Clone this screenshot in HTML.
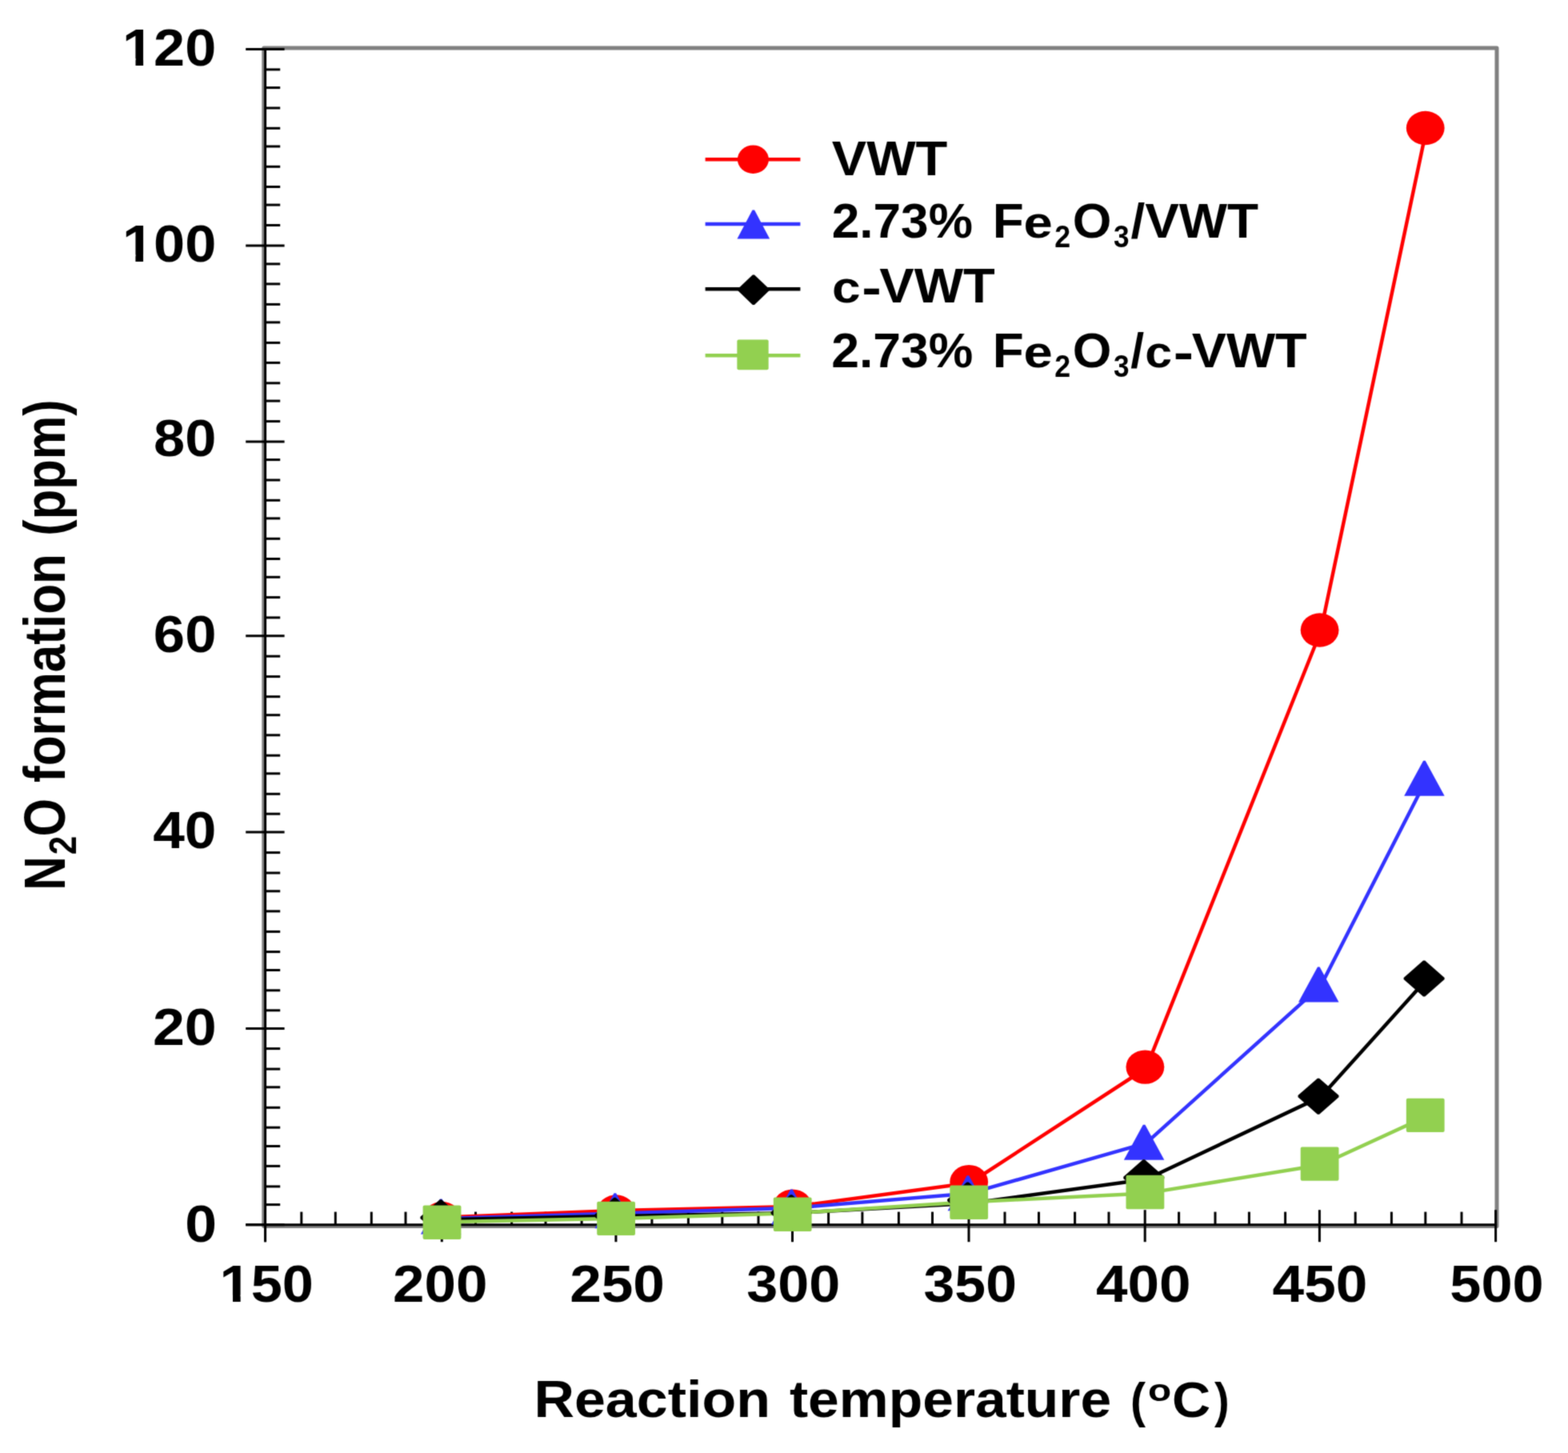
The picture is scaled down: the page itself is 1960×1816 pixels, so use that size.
<!DOCTYPE html>
<html><head><meta charset="utf-8"><title>N2O formation vs reaction temperature</title>
<style>html,body{margin:0;padding:0;background:#fff;width:1960px;height:1816px;overflow:hidden}svg{display:block}text{font-family:"Liberation Sans",Arial,sans-serif;font-weight:bold;fill:#000}</style>
</head><body>
<svg xmlns="http://www.w3.org/2000/svg" width="1960" height="1816" viewBox="0 0 1960 1816">
<defs><filter id="soft" x="0" y="0" width="1960" height="1816" filterUnits="userSpaceOnUse" color-interpolation-filters="sRGB"><feConvolveMatrix order="3" kernelMatrix="0.02768 0.11101 0.02768 0.11101 0.44521 0.11101 0.02768 0.11101 0.02768" divisor="1" edgeMode="duplicate"/></filter></defs>
<g filter="url(#soft)">
<rect x="0" y="0" width="1960" height="1816" fill="#fff"/>
<rect x="329.8" y="60.1" width="1541.2" height="1472.4" fill="none" stroke="#808080" stroke-width="5" stroke-linejoin="round"/>
<g stroke="#000" stroke-width="3" fill="none">
<line x1="331.6" y1="59.9" x2="331.6" y2="1552.2"/>
<line x1="307.2" y1="1530.7" x2="1871.1" y2="1530.7"/>
<line x1="331.6" y1="86.9" x2="350.2" y2="86.9"/>
<line x1="331.6" y1="109.6" x2="350.2" y2="109.6"/>
<line x1="331.6" y1="135" x2="350.2" y2="135"/>
<line x1="331.6" y1="160.3" x2="350.2" y2="160.3"/>
<line x1="331.6" y1="183" x2="350.2" y2="183"/>
<line x1="331.6" y1="208.3" x2="350.2" y2="208.3"/>
<line x1="331.6" y1="233.5" x2="350.2" y2="233.5"/>
<line x1="331.6" y1="256.1" x2="350.2" y2="256.1"/>
<line x1="331.6" y1="281.5" x2="350.2" y2="281.5"/>
<line x1="331.6" y1="329.9" x2="350.2" y2="329.9"/>
<line x1="331.6" y1="354.9" x2="350.2" y2="354.9"/>
<line x1="331.6" y1="380.4" x2="350.2" y2="380.4"/>
<line x1="331.6" y1="402.9" x2="350.2" y2="402.9"/>
<line x1="331.6" y1="428.4" x2="350.2" y2="428.4"/>
<line x1="331.6" y1="453.4" x2="350.2" y2="453.4"/>
<line x1="331.6" y1="478.8" x2="350.2" y2="478.8"/>
<line x1="331.6" y1="501.1" x2="350.2" y2="501.1"/>
<line x1="331.6" y1="526.6" x2="350.2" y2="526.6"/>
<line x1="331.6" y1="574.6" x2="350.2" y2="574.6"/>
<line x1="331.6" y1="600" x2="350.2" y2="600"/>
<line x1="331.6" y1="625.3" x2="350.2" y2="625.3"/>
<line x1="331.6" y1="647.9" x2="350.2" y2="647.9"/>
<line x1="331.6" y1="673.3" x2="350.2" y2="673.3"/>
<line x1="331.6" y1="698.5" x2="350.2" y2="698.5"/>
<line x1="331.6" y1="721.3" x2="350.2" y2="721.3"/>
<line x1="331.6" y1="746.6" x2="350.2" y2="746.6"/>
<line x1="331.6" y1="771.9" x2="350.2" y2="771.9"/>
<line x1="331.6" y1="820.2" x2="350.2" y2="820.2"/>
<line x1="331.6" y1="845.6" x2="350.2" y2="845.6"/>
<line x1="331.6" y1="870.7" x2="350.2" y2="870.7"/>
<line x1="331.6" y1="893.7" x2="350.2" y2="893.7"/>
<line x1="331.6" y1="918.8" x2="350.2" y2="918.8"/>
<line x1="331.6" y1="944.2" x2="350.2" y2="944.2"/>
<line x1="331.6" y1="966.8" x2="350.2" y2="966.8"/>
<line x1="331.6" y1="992.3" x2="350.2" y2="992.3"/>
<line x1="331.6" y1="1017.2" x2="350.2" y2="1017.2"/>
<line x1="331.6" y1="1065.6" x2="350.2" y2="1065.6"/>
<line x1="331.6" y1="1091" x2="350.2" y2="1091"/>
<line x1="331.6" y1="1113.8" x2="350.2" y2="1113.8"/>
<line x1="331.6" y1="1138.9" x2="350.2" y2="1138.9"/>
<line x1="331.6" y1="1164.4" x2="350.2" y2="1164.4"/>
<line x1="331.6" y1="1189.6" x2="350.2" y2="1189.6"/>
<line x1="331.6" y1="1212.5" x2="350.2" y2="1212.5"/>
<line x1="331.6" y1="1237.8" x2="350.2" y2="1237.8"/>
<line x1="331.6" y1="1262.8" x2="350.2" y2="1262.8"/>
<line x1="331.6" y1="1310.6" x2="350.2" y2="1310.6"/>
<line x1="331.6" y1="1336.1" x2="350.2" y2="1336.1"/>
<line x1="331.6" y1="1358.8" x2="350.2" y2="1358.8"/>
<line x1="331.6" y1="1384.3" x2="350.2" y2="1384.3"/>
<line x1="331.6" y1="1409.2" x2="350.2" y2="1409.2"/>
<line x1="331.6" y1="1432.5" x2="350.2" y2="1432.5"/>
<line x1="331.6" y1="1457.4" x2="350.2" y2="1457.4"/>
<line x1="331.6" y1="1482.9" x2="350.2" y2="1482.9"/>
<line x1="331.6" y1="1505.6" x2="350.2" y2="1505.6"/>
<line x1="307.2" y1="1530.7" x2="355.6" y2="1530.7"/>
<line x1="307.2" y1="1285.5" x2="355.6" y2="1285.5"/>
<line x1="307.2" y1="1040.1" x2="355.6" y2="1040.1"/>
<line x1="307.2" y1="794.75" x2="355.6" y2="794.75"/>
<line x1="307.2" y1="552" x2="355.6" y2="552"/>
<line x1="307.2" y1="306.9" x2="355.6" y2="306.9"/>
<line x1="307.2" y1="61.45" x2="355.6" y2="61.45"/>
<line x1="376.8" y1="1530.7" x2="376.8" y2="1514.6"/>
<line x1="419.3" y1="1530.7" x2="419.3" y2="1514.6"/>
<line x1="464.3" y1="1530.7" x2="464.3" y2="1514.6"/>
<line x1="507" y1="1530.7" x2="507" y2="1514.6"/>
<line x1="594.5" y1="1530.7" x2="594.5" y2="1514.6"/>
<line x1="639.6" y1="1530.7" x2="639.6" y2="1514.6"/>
<line x1="682" y1="1530.7" x2="682" y2="1514.6"/>
<line x1="727.1" y1="1530.7" x2="727.1" y2="1514.6"/>
<line x1="814.9" y1="1530.7" x2="814.9" y2="1514.6"/>
<line x1="860.4" y1="1530.7" x2="860.4" y2="1514.6"/>
<line x1="902.8" y1="1530.7" x2="902.8" y2="1514.6"/>
<line x1="948" y1="1530.7" x2="948" y2="1514.6"/>
<line x1="1035.6" y1="1530.7" x2="1035.6" y2="1514.6"/>
<line x1="1077.9" y1="1530.7" x2="1077.9" y2="1514.6"/>
<line x1="1123.4" y1="1530.7" x2="1123.4" y2="1514.6"/>
<line x1="1165.5" y1="1530.7" x2="1165.5" y2="1514.6"/>
<line x1="1256" y1="1530.7" x2="1256" y2="1514.6"/>
<line x1="1298.5" y1="1530.7" x2="1298.5" y2="1514.6"/>
<line x1="1343.6" y1="1530.7" x2="1343.6" y2="1514.6"/>
<line x1="1386" y1="1530.7" x2="1386" y2="1514.6"/>
<line x1="1473.6" y1="1530.7" x2="1473.6" y2="1514.6"/>
<line x1="1519" y1="1530.7" x2="1519" y2="1514.6"/>
<line x1="1561.4" y1="1530.7" x2="1561.4" y2="1514.6"/>
<line x1="1606.6" y1="1530.7" x2="1606.6" y2="1514.6"/>
<line x1="1694.2" y1="1530.7" x2="1694.2" y2="1514.6"/>
<line x1="1739.4" y1="1530.7" x2="1739.4" y2="1514.6"/>
<line x1="1781.8" y1="1530.7" x2="1781.8" y2="1514.6"/>
<line x1="1827" y1="1530.7" x2="1827" y2="1514.6"/>
<line x1="331.5" y1="1512.2" x2="331.5" y2="1552.2"/>
<line x1="552.3" y1="1512.2" x2="552.3" y2="1552.2"/>
<line x1="769.9" y1="1512.2" x2="769.9" y2="1552.2"/>
<line x1="990.5" y1="1512.2" x2="990.5" y2="1552.2"/>
<line x1="1211" y1="1512.2" x2="1211" y2="1552.2"/>
<line x1="1431.2" y1="1512.2" x2="1431.2" y2="1552.2"/>
<line x1="1649.4" y1="1512.2" x2="1649.4" y2="1552.2"/>
<line x1="1869.6" y1="1512.2" x2="1869.6" y2="1552.2"/>
</g>
<polyline points="553.8,1521.6 771.4,1513.1 992,1508 1212.5,1478.5 1432.7,1335 1650.9,789 1783.02,161.4" fill="none" stroke="#FF0000" stroke-width="4.5" stroke-linejoin="round"/>
<polyline points="553.8,1523 771.4,1516.5 992,1509.7 1212.5,1491.4 1432.7,1428.6 1650.9,1232.2 1783.02,974.2" fill="none" stroke="#3333FF" stroke-width="4.5" stroke-linejoin="round"/>
<polyline points="553.8,1524.2 771.4,1520 992,1516 1212.5,1504 1432.7,1474 1650.9,1370.9 1783.02,1224.4" fill="none" stroke="#000000" stroke-width="4.5" stroke-linejoin="round"/>
<polyline points="553.8,1527.2 771.4,1523 992,1516.3 1212.5,1502.3 1432.7,1491.4 1650.9,1456 1783.02,1395.3" fill="none" stroke="#92D050" stroke-width="4.5" stroke-linejoin="round"/>
<ellipse cx="552.5" cy="1523" rx="23.9" ry="21.2" fill="#FF0000"/>
<ellipse cx="770.1" cy="1514.5" rx="23.9" ry="21.2" fill="#FF0000"/>
<ellipse cx="990.7" cy="1507.6" rx="23.9" ry="21.2" fill="#FF0000"/>
<ellipse cx="1211.2" cy="1477.2" rx="23.9" ry="21.2" fill="#FF0000"/>
<ellipse cx="1431.4" cy="1333.6" rx="23.9" ry="21.2" fill="#FF0000"/>
<ellipse cx="1649.6" cy="787.5" rx="23.9" ry="21.2" fill="#FF0000"/>
<ellipse cx="1781.72" cy="160" rx="23.9" ry="21.2" fill="#FF0000"/>
<polygon points="549.9,1498.4 552.5,1498.4 576.45,1542.4 525.95,1542.4" fill="#3333FF"/>
<polygon points="767.5,1491.3 770.1,1491.3 794.05,1535.3 743.55,1535.3" fill="#3333FF"/>
<polygon points="988.1,1486.5 990.7,1486.5 1014.65,1530.5 964.15,1530.5" fill="#3333FF"/>
<polygon points="1208.6,1469.2 1211.2,1469.2 1235.15,1513.2 1184.65,1513.2" fill="#3333FF"/>
<polygon points="1428.8,1405.8 1431.4,1405.8 1455.35,1449.8 1404.85,1449.8" fill="#3333FF"/>
<polygon points="1647,1208.45 1649.6,1208.45 1673.55,1252.45 1623.05,1252.45" fill="#3333FF"/>
<polygon points="1779.12,950.8 1781.72,950.8 1805.67,994.8 1755.17,994.8" fill="#3333FF"/>
<polygon points="549.8,1499.3 552,1499.3 576.4,1520.7 576.4,1522.9 552,1544.3 549.8,1544.3 525.4,1522.9 525.4,1520.7" fill="#000000"/>
<polygon points="767.4,1496.8 769.6,1496.8 794,1518.2 794,1520.4 769.6,1541.8 767.4,1541.8 743,1520.4 743,1518.2" fill="#000000"/>
<polygon points="988,1493.3 990.2,1493.3 1014.6,1514.7 1014.6,1516.9 990.2,1538.3 988,1538.3 963.6,1516.9 963.6,1514.7" fill="#000000"/>
<polygon points="1208.5,1477.5 1210.7,1477.5 1235.1,1498.9 1235.1,1501.1 1210.7,1522.5 1208.5,1522.5 1184.1,1501.1 1184.1,1498.9" fill="#000000"/>
<polygon points="1428.7,1449.3 1430.9,1449.3 1455.3,1470.7 1455.3,1472.9 1430.9,1494.3 1428.7,1494.3 1404.3,1472.9 1404.3,1470.7" fill="#000000"/>
<polygon points="1646.9,1347.7 1649.1,1347.7 1673.5,1369.1 1673.5,1371.3 1649.1,1392.7 1646.9,1392.7 1622.5,1371.3 1622.5,1369.1" fill="#000000"/>
<polygon points="1779.02,1200.5 1781.22,1200.5 1805.62,1221.9 1805.62,1224.1 1781.22,1245.5 1779.02,1245.5 1754.62,1224.1 1754.62,1221.9" fill="#000000"/>
<rect x="528.6" y="1506.6" width="47.8" height="42.4" rx="2" fill="#92D050"/>
<rect x="746.2" y="1501.7" width="47.8" height="42.4" rx="2" fill="#92D050"/>
<rect x="966.8" y="1496.6" width="47.8" height="42.4" rx="2" fill="#92D050"/>
<rect x="1187.3" y="1481.6" width="47.8" height="42.4" rx="2" fill="#92D050"/>
<rect x="1407.5" y="1468.8" width="47.8" height="42.4" rx="2" fill="#92D050"/>
<rect x="1625.7" y="1433.4" width="47.8" height="42.4" rx="2" fill="#92D050"/>
<rect x="1757.82" y="1372.7" width="47.8" height="42.4" rx="2" fill="#92D050"/>
<defs><clipPath id="nofoot"><path clip-rule="evenodd" d="M0 0H1960V1816H0ZM155.14 72.92h14.33v11.06h-14.33ZM179.1 72.92h13.4v11.06h-13.4ZM155.04 318.22h14.35v11.06h-14.35ZM179.04 318.22h13.43v11.06h-13.43ZM276.64 1618.42h14.35v11.06h-14.35ZM300.64 1618.42h13.43v11.06h-13.43Z"/></clipPath></defs>
<text clip-path="url(#nofoot)">
<tspan x="153.09" y="81.98" font-size="64" textLength="117.12" lengthAdjust="spacingAndGlyphs">120</tspan>
<tspan x="152.98" y="327.28" font-size="64" textLength="117.33" lengthAdjust="spacingAndGlyphs">100</tspan>
<tspan x="192.09" y="569.88" font-size="64" textLength="78.29" lengthAdjust="spacingAndGlyphs">80</tspan>
<tspan x="191.88" y="814.68" font-size="64" textLength="78.51" lengthAdjust="spacingAndGlyphs">60</tspan>
<tspan x="191.18" y="1060.18" font-size="64" textLength="79.24" lengthAdjust="spacingAndGlyphs">40</tspan>
<tspan x="190.95" y="1306.08" font-size="64" textLength="79.79" lengthAdjust="spacingAndGlyphs">20</tspan>
<tspan x="231.24" y="1551.88" font-size="64" textLength="39.77" lengthAdjust="spacingAndGlyphs">0</tspan>
</text>
<text clip-path="url(#nofoot)">
<tspan x="274.58" y="1627.48" font-size="64" textLength="117.33" lengthAdjust="spacingAndGlyphs">150</tspan>
<tspan x="490.97" y="1627.48" font-size="64" textLength="118.37" lengthAdjust="spacingAndGlyphs">200</tspan>
<tspan x="712.16" y="1627.48" font-size="64" textLength="118.78" lengthAdjust="spacingAndGlyphs">250</tspan>
<tspan x="933.3" y="1627.48" font-size="64" textLength="117.01" lengthAdjust="spacingAndGlyphs">300</tspan>
<tspan x="1154.61" y="1627.48" font-size="64" textLength="116.28" lengthAdjust="spacingAndGlyphs">350</tspan>
<tspan x="1370.08" y="1627.48" font-size="64" textLength="118.56" lengthAdjust="spacingAndGlyphs">400</tspan>
<tspan x="1590.58" y="1627.48" font-size="64" textLength="118.77" lengthAdjust="spacingAndGlyphs">450</tspan>
<tspan x="1812.29" y="1627.48" font-size="64" textLength="117.32" lengthAdjust="spacingAndGlyphs">500</tspan>
</text>
<text>
<tspan x="667.4" y="1771.44" font-size="64.6" textLength="295.53" lengthAdjust="spacingAndGlyphs">Reaction</tspan>
<tspan x="986.9" y="1771.44" font-size="64.6" textLength="402.27" lengthAdjust="spacingAndGlyphs">temperature</tspan>
<tspan x="1413.04" y="1771.14" font-size="61.8" textLength="19.04" lengthAdjust="spacingAndGlyphs">(</tspan>
<tspan x="1434.99" y="1750.7" font-size="39.5" textLength="29.16" lengthAdjust="spacingAndGlyphs">o</tspan>
<tspan x="1465.14" y="1771.44" font-size="63" textLength="48.11" lengthAdjust="spacingAndGlyphs">C</tspan>
<tspan x="1517.9" y="1771.14" font-size="61.8" textLength="18.68" lengthAdjust="spacingAndGlyphs">)</tspan>
</text>
<text transform="rotate(-90)">
<tspan x="-1112.8" y="80.75" font-size="72" textLength="42.34" lengthAdjust="spacingAndGlyphs">N</tspan>
<tspan x="-1068.17" y="95.4" font-size="48" textLength="23.5" lengthAdjust="spacingAndGlyphs">2</tspan>
<tspan x="-1045.55" y="80.75" font-size="72" textLength="47.57" lengthAdjust="spacingAndGlyphs">O</tspan>
<tspan x="-977.94" y="80.75" font-size="72" textLength="285.92" lengthAdjust="spacingAndGlyphs">formation</tspan>
<tspan x="-669.67" y="80.75" font-size="72" textLength="170.24" lengthAdjust="spacingAndGlyphs">(ppm)</tspan>
</text>
<line x1="881.6" y1="199.2" x2="1000.4" y2="199.2" stroke="#FF0000" stroke-width="4.5"/>
<ellipse cx="941.4" cy="199.2" rx="19.5" ry="17.7" fill="#FF0000"/>
<line x1="881.6" y1="280" x2="1000.4" y2="280" stroke="#3333FF" stroke-width="4.5"/>
<polygon points="940.5,262.45 943.1,262.45 962.15,298.55 921.45,298.55" fill="#3333FF"/>
<line x1="881.6" y1="361.2" x2="1000.4" y2="361.2" stroke="#000000" stroke-width="4.5"/>
<polygon points="940.8,343.5 943,343.5 961.4,361.1 961.4,363.3 943,380.9 940.8,380.9 922.4,363.3 922.4,361.1" fill="#000000"/>
<line x1="881.6" y1="444.3" x2="1000.4" y2="444.3" stroke="#92D050" stroke-width="4.5"/>
<rect x="921.35" y="424.4" width="39.3" height="37.8" rx="2" fill="#92D050"/>
<text>
<tspan x="1039.75" y="219" font-size="62" textLength="144.61" lengthAdjust="spacingAndGlyphs">VWT</tspan>
</text>
<text>
<tspan x="1039.74" y="297.2" font-size="62" textLength="176.15" lengthAdjust="spacingAndGlyphs">2.73%</tspan>
<tspan x="1240.73" y="297.2" font-size="62" textLength="38.98" lengthAdjust="spacingAndGlyphs">F</tspan>
<tspan x="1279.59" y="297.2" font-size="55.5" textLength="36.27" lengthAdjust="spacingAndGlyphs">e</tspan>
<tspan x="1318.13" y="309.4" font-size="37.9" textLength="19.87" lengthAdjust="spacingAndGlyphs">2</tspan>
<tspan x="1340.7" y="297.2" font-size="62" textLength="48.68" lengthAdjust="spacingAndGlyphs">O</tspan>
<tspan x="1391.9" y="309" font-size="37.9" textLength="19.58" lengthAdjust="spacingAndGlyphs">3</tspan>
<tspan x="1413.46" y="297.2" font-size="62" textLength="159.65" lengthAdjust="spacingAndGlyphs">/VWT</tspan>
</text>
<text>
<tspan x="1040.04" y="378.1" font-size="55.5" textLength="35.65" lengthAdjust="spacingAndGlyphs">c</tspan>
<tspan x="1077.16" y="380.4" font-size="62" textLength="24.52" lengthAdjust="spacingAndGlyphs">-</tspan>
<tspan x="1099.35" y="378.1" font-size="62" textLength="144.51" lengthAdjust="spacingAndGlyphs">VWT</tspan>
</text>
<text>
<tspan x="1039.23" y="458.8" font-size="62" textLength="177.17" lengthAdjust="spacingAndGlyphs">2.73%</tspan>
<tspan x="1240.73" y="458.8" font-size="62" textLength="38.98" lengthAdjust="spacingAndGlyphs">F</tspan>
<tspan x="1279.59" y="458.8" font-size="55.5" textLength="36.27" lengthAdjust="spacingAndGlyphs">e</tspan>
<tspan x="1318.13" y="471.4" font-size="37.9" textLength="19.87" lengthAdjust="spacingAndGlyphs">2</tspan>
<tspan x="1340.7" y="458.8" font-size="62" textLength="48.68" lengthAdjust="spacingAndGlyphs">O</tspan>
<tspan x="1391.9" y="471" font-size="37.9" textLength="19.58" lengthAdjust="spacingAndGlyphs">3</tspan>
<tspan x="1413.19" y="458.8" font-size="62" textLength="16.89" lengthAdjust="spacingAndGlyphs">/</tspan>
<tspan x="1431.17" y="458.8" font-size="55.5" textLength="33.83" lengthAdjust="spacingAndGlyphs">c</tspan>
<tspan x="1466.86" y="461.1" font-size="62" textLength="25.32" lengthAdjust="spacingAndGlyphs">-</tspan>
<tspan x="1489.65" y="458.8" font-size="62" textLength="144.11" lengthAdjust="spacingAndGlyphs">VWT</tspan>
</text>
</g>
</svg>
</body></html>
